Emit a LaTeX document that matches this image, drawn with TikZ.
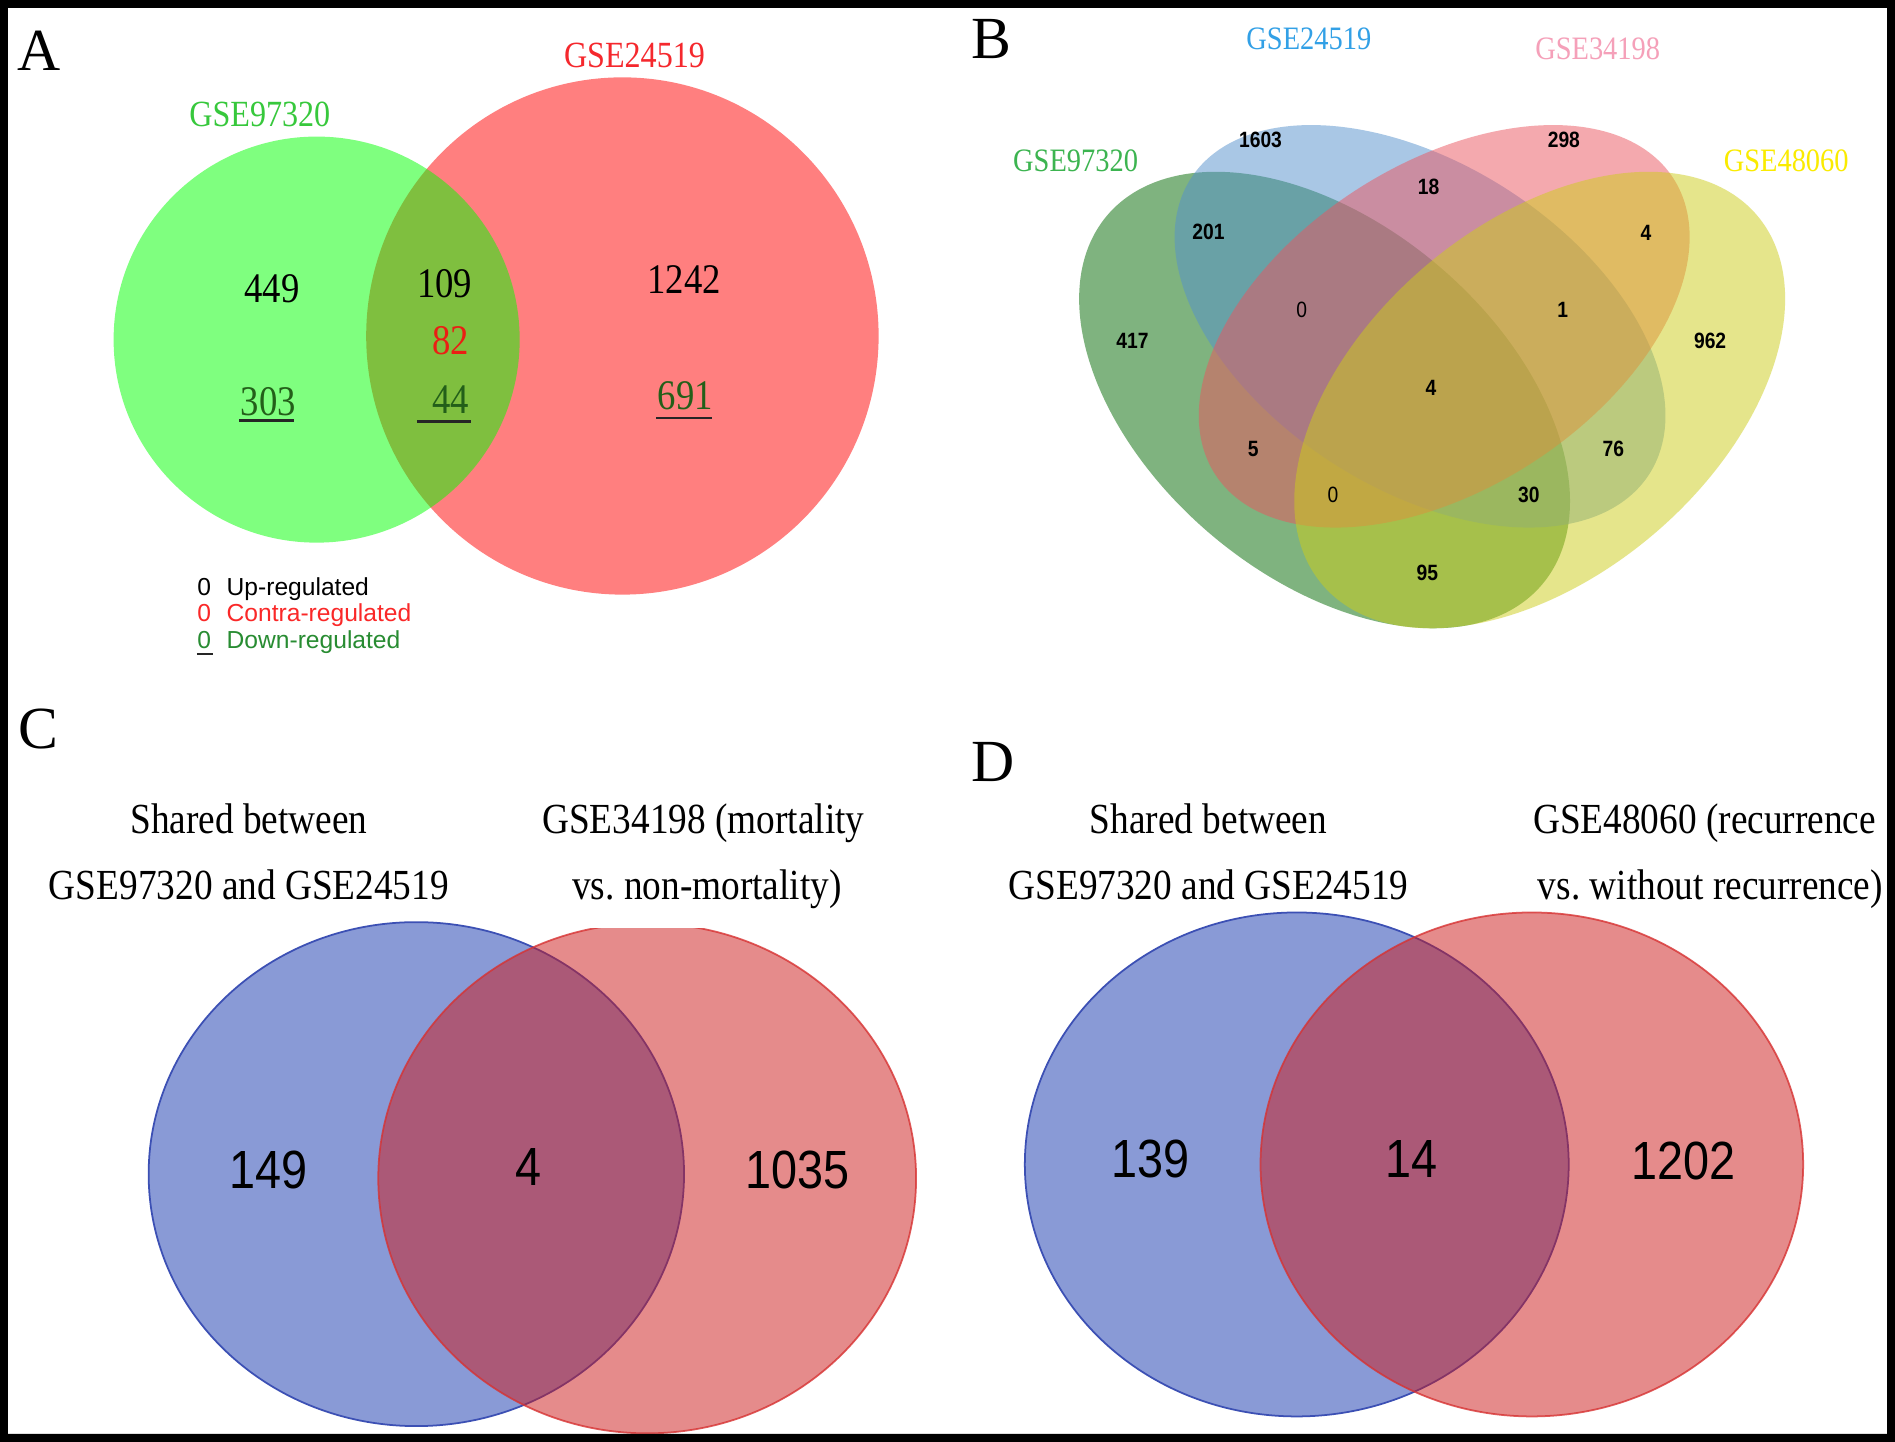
\documentclass[tikz,border=0pt]{standalone}
\usepackage{fontspec}
\setmainfont{Liberation Serif}
\newfontfamily\cserif[FakeStretch=0.87]{Liberation Serif}
\newfontfamily\csans[FakeStretch=0.87]{Liberation Sans}
\newfontfamily\lsans{Liberation Sans}
\definecolor{agreenf}{RGB}{0,255,0}
\definecolor{aredf}{RGB}{255,0,0}
\definecolor{alabg}{RGB}{55,200,60}
\definecolor{alabr}{RGB}{245,40,45}
\definecolor{dgreen}{RGB}{35,95,25}
\definecolor{numred}{RGB}{235,30,20}
\definecolor{leggreen}{RGB}{40,140,50}
\definecolor{legred}{RGB}{250,40,40}
\definecolor{bgreen}{RGB}{0,105,0}
\definecolor{bblue}{RGB}{85,145,205}
\definecolor{bpink}{RGB}{235,85,95}
\definecolor{byellow}{RGB}{205,205,25}
\definecolor{lgreen}{RGB}{60,180,80}
\definecolor{lblue}{RGB}{50,160,230}
\definecolor{lpink}{RGB}{245,160,185}
\definecolor{lyellow}{RGB}{250,235,0}
\definecolor{cblue}{RGB}{20,55,175}
\definecolor{cblueline}{RGB}{60,80,180}
\definecolor{cred}{RGB}{205,25,25}
\definecolor{credline}{RGB}{215,50,50}
\tikzset{
  txt/.style={inner sep=0pt, anchor=base},
  panel/.style={txt, font=\fontsize{17}{17}\selectfont},
  alabel/.style={txt, font=\cserif\fontsize{10.5}{10.5}\selectfont},
  anum/.style={txt, font=\cserif\fontsize{12}{12}\selectfont},
  leg/.style={txt, font=\lsans\fontsize{7}{7}\selectfont},
  blabel/.style={txt, font=\cserif\fontsize{9.3}{9.3}\selectfont},
  bnum/.style={txt, font=\csans\bfseries\fontsize{6.3}{6.3}\selectfont},
  bzero/.style={txt, font=\csans\fontsize{6.3}{6.3}\selectfont},
  ctitle/.style={txt, font=\cserif\fontsize{12.2}{12.2}\selectfont},
  cnum/.style={txt, font=\csans\fontsize{15.3}{15.3}\selectfont},
  uline/.style={line width=0.75pt, black!85},
  vennfill/.style={fill opacity=0.5},
}
% four-set ellipse in display px: centre x, centre y, orientation sign (+1 = \, -1 = /), vertical factor
\newcommand\vellip[4]{plot[variable=\t,domain=0:357,samples=120,smooth cycle]
 ({#1+0.7071*(244*cos(\t)+151.5*sin(\t))},
  {#2+#3*#4*0.7071*(244*cos(\t)-151.5*sin(\t))})}
\begin{document}
\begin{tikzpicture}[x=0.012086cm,y=-0.012086cm]
\fill[white] (0,0) rectangle (1568,1193);
\useasboundingbox (0,0) rectangle (1568,1193);

% ---------------- Panel A ----------------
\fill[aredf, vennfill] (515,278) ellipse [x radius=212, y radius=214];
\fill[agreenf, vennfill] (262,281) circle [radius=168];
\node[panel] (pA) at (32,58) {A};
\node[alabel, text=alabg] (la1) at (215,105) {GSE97320};
\node[alabel, text=alabr] (la2) at (525,56) {GSE24519};
\node[anum] (a449) at (225,250) {449};
\node[anum] (a109) at (368,246) {109};
\node[anum] (a1242) at (566,243) {1242};
\node[anum, text=numred] (a82) at (373,293) {82};
\node[anum, text=dgreen] (a303) at (222,344) {303};
\node[anum, text=dgreen] (a44) at (373,342) {44};
\node[anum, text=dgreen] (a691) at (567,339) {691};
\draw[uline] (198,348) -- (243,348);
\draw[uline] (345,349) -- (390,349);
\draw[uline] (543,346) -- (589,346);
% legend
\node[leg] (lg0a) at (169,493) {0};
\node[leg, anchor=base west] (lg1) at (187,493) {Up-regulated};
\node[leg, text=legred] (lg0b) at (169,514) {0};
\node[leg, anchor=base west, text=legred] (lg2) at (187,514) {Contra-regulated};
\node[leg, text=leggreen] (lg0c) at (169,537) {0};
\node[leg, anchor=base west, text=leggreen] (lg3) at (187,537) {Down-regulated};
\draw[line width=0.6pt, black!85] (163,541.5) -- (176,541.5);

% ---------------- Panel B ----------------
\fill[bgreen, vennfill] \vellip{1096}{331}{1}{0.93};
\fill[bblue, vennfill] \vellip{1175}{270}{1}{0.82};
\fill[bpink, vennfill] \vellip{1195}{270}{-1}{0.82};
\fill[byellow, vennfill] \vellip{1274}{331}{-1}{0.93};
\node[panel] (pB) at (820,48) {B};
\node[blabel, text=lblue] (lb2) at (1083,41) {GSE24519};
\node[blabel, text=lpink] (lb3) at (1322,49) {GSE34198};
\node[blabel, text=lgreen] (lb1) at (890,142) {GSE97320};
\node[blabel, text=lyellow] (lb4) at (1478,142) {GSE48060};
\node[bnum] (b1603) at (1043,122) {1603};
\node[bnum] (b298) at (1294,122) {298};
\node[bnum] (b18) at (1182,161) {18};
\node[bnum] (b201) at (1000,198) {201};
\node[bnum] (b4a) at (1362,199) {4};
\node[bzero] (b0a) at (1077,263) {0};
\node[bnum] (b1) at (1293,263) {1};
\node[bnum] (b417) at (937,288) {417};
\node[bnum] (b962) at (1415,288) {962};
\node[bnum] (b4b) at (1184,327) {4};
\node[bnum] (b5) at (1037,378) {5};
\node[bnum] (b76) at (1335,378) {76};
\node[bzero] (b0b) at (1103,416) {0};
\node[bnum] (b30) at (1265,416) {30};
\node[bnum] (b95) at (1181,480) {95};

% ---------------- Panel C ----------------
\fill[cblue, vennfill] (344.5,971.5) ellipse [x radius=221.5, y radius=208.5];
\draw[cblueline, line width=0.5pt] (344.5,971.5) ellipse [x radius=221.5, y radius=208.5];
\begin{scope}
\clip (300,768) rectangle (780,1192);
\fill[cred, vennfill] (535.5,975) ellipse [x radius=222.5, y radius=211];
\draw[credline, line width=0.5pt, draw opacity=0.8] (535.5,975) ellipse [x radius=222.5, y radius=211];
\end{scope}
\node[panel] (pC) at (32,619) {C};
\node[ctitle] (tc1) at (206,690) {Shared between};
\node[ctitle] (tc2) at (206,744) {GSE97320 and GSE24519};
\node[ctitle] (tc3) at (582,690) {GSE34198 (mortality};
\node[ctitle] (tc4) at (585,744) {vs.\ non-mortality)};
\node[cnum] (c149) at (222,983) {149};
\node[cnum] (c4) at (437,981) {4};
\node[cnum] (c1035) at (660,983) {1035};

% ---------------- Panel D ----------------
\fill[cblue, vennfill] (1073,963.5) ellipse [x radius=225, y radius=208.5];
\draw[cblueline, line width=0.5pt] (1073,963.5) ellipse [x radius=225, y radius=208.5];
\fill[cred, vennfill] (1267.5,963.5) ellipse [x radius=224.5, y radius=208.5];
\draw[credline, line width=0.5pt, draw opacity=0.8] (1267.5,963.5) ellipse [x radius=224.5, y radius=208.5];
\node[panel] (pD) at (822,647) {D};
\node[ctitle] (td1) at (1000,690) {Shared between};
\node[ctitle] (td2) at (1000,744) {GSE97320 and GSE24519};
\node[ctitle, anchor=base west] (td3) at (1268,690) {GSE48060 (recurrence};
\node[ctitle, anchor=base west] (td4) at (1272,744) {vs.\ without recurrence)};
\node[cnum] (d139) at (952,974) {139};
\node[cnum] (d14) at (1168,974) {14};
\node[cnum] (d1202) at (1393,976) {1202};

% ---------------- frame ----------------
\fill[black, even odd rule] (0,0) rectangle (1568,1193) (6.6,6.6) rectangle (1561.4,1186.4);
\end{tikzpicture}
\end{document}
